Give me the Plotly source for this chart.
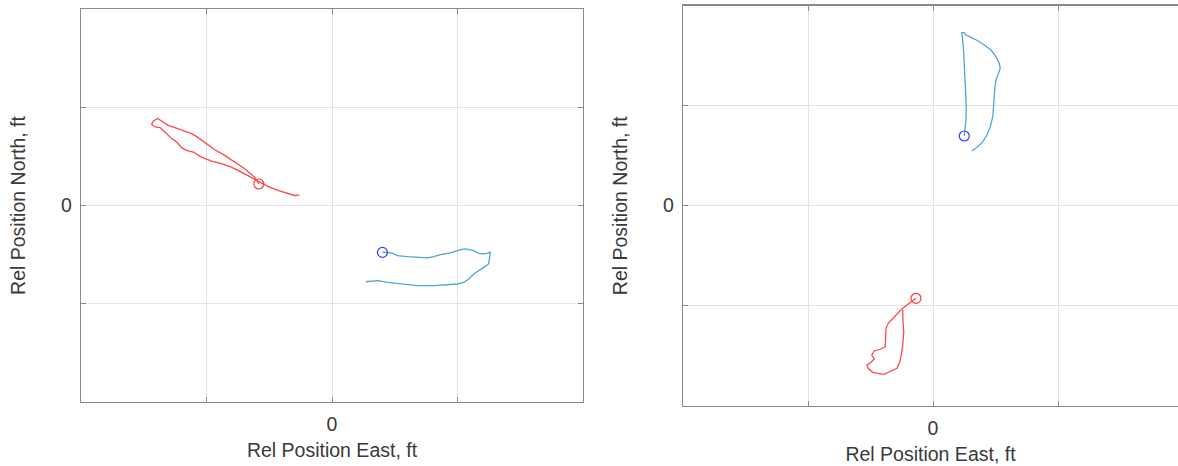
import plotly.graph_objects as go

# ---------------- data (ft) ----------------
# Left panel: red track
left_red_east = [-5.83, -6.17, -6.96, -7.75, -8.55, -9.34, -10.0, -10.66, -11.19, -11.85,
                 -12.52, -13.04, -13.44, -13.89, -14.23, -14.37, -14.10, -13.71, -13.31, -12.78,
                 -12.38, -11.98, -11.59, -11.06, -10.40, -9.60, -8.81, -8.02, -7.22, -6.43,
                 -5.77, -5.10, -4.31, -3.52, -2.99, -2.60]
left_red_north = [2.19, 2.89, 3.74, 4.42, 5.10, 5.68, 6.30, 6.91, 7.32, 7.65,
                  7.93, 8.16, 8.50, 8.85, 8.60, 8.27, 7.99, 7.93, 7.48, 6.81,
                  6.46, 5.89, 5.61, 5.44, 4.93, 4.52, 4.26, 3.91, 3.40, 2.83,
                  2.38, 1.94, 1.53, 1.19, 1.02, 1.09]
left_red_start = (-5.83, 2.19)

# Left panel: blue track
left_blue_east = [4.02, 4.42, 4.82, 5.21, 6.01, 6.80, 7.60, 8.12, 8.65, 9.44,
                  10.24, 10.63, 11.29, 11.69, 12.09, 12.36, 12.62, 12.56, 12.48, 12.09,
                  11.69, 11.29, 10.90, 10.50, 9.98, 9.18, 8.12, 6.80, 5.48, 4.42,
                  3.63, 3.10, 2.70]
left_blue_north = [-4.77, -4.77, -4.87, -5.10, -5.20, -5.28, -5.34, -5.20, -5.00, -4.83,
                   -4.49, -4.42, -4.59, -4.87, -4.93, -4.87, -4.72, -5.28, -5.95, -6.30,
                   -6.63, -6.97, -7.48, -7.83, -7.99, -8.06, -8.16, -8.16, -7.99, -7.83,
                   -7.65, -7.72, -7.76]
left_blue_start = (4.02, -4.77)

# Right panel: blue track
right_blue_east = [2.50, 2.56, 2.64, 2.66, 2.62, 2.56, 2.50, 2.46, 2.40, 2.34,
                   2.30, 2.50, 2.64, 3.04, 3.58, 4.10, 4.64, 5.04, 5.30, 5.38,
                   5.22, 5.04, 4.96, 4.90, 4.86, 4.78, 4.58, 4.32, 3.98, 3.58, 3.10]
right_blue_north = [6.95, 7.55, 8.55, 9.88, 11.22, 12.55, 13.88, 15.22, 16.22, 17.05,
                    17.28, 17.28, 17.05, 16.82, 16.48, 16.05, 15.55, 14.88, 14.22, 13.72,
                    13.05, 12.55, 11.88, 10.88, 9.88, 8.88, 7.88, 7.05, 6.38, 5.88, 5.45]
right_blue_start = (2.50, 6.95)

# Right panel: red track
right_red_east = [-1.36, -1.76, -2.16, -2.50, -2.82, -3.22, -3.58, -3.76, -3.76, -3.82,
                  -4.16, -4.70, -4.90, -4.70, -4.96, -5.28, -5.18, -4.82, -4.42, -3.90,
                  -3.36, -2.88, -2.70, -2.56, -2.42, -2.34, -2.40, -2.42]
right_red_north = [-9.28, -9.62, -10.02, -10.35, -10.78, -11.28, -11.78, -12.28, -13.28, -14.12,
                   -14.35, -14.55, -14.95, -15.35, -15.68, -15.95, -16.28, -16.68, -16.78, -16.88,
                   -16.55, -16.28, -15.78, -15.12, -13.95, -12.62, -11.62, -10.45]
right_red_start = (-1.36, -9.28)

tick_vals = [-10, 0, 10]
tick_text = ["", "0", ""]
x_title = "Rel Position East, ft"
y_title = "Rel Position North, ft"

# ---------------- styles ----------------
RED = "#ff4848"
BLUE_LINE = "#55a2d8"
BLUE_MARK = "#3a3aff"
RED_MARK = "#ff3a3a"
AXCOL = "#8a8a8a"
GRIDCOL = "#e3e3e3"
TXT = "#3a3a3a"
FONT = "Liberation Sans, Arial, sans-serif"
FS = 19.5

W, H = 1178, 466

fig = go.Figure()

def add_track(x, y, color, xa, ya):
    fig.add_trace(go.Scatter(x=x, y=y, mode="lines", line=dict(color=color, width=1.3),
                             xaxis=xa, yaxis=ya, showlegend=False, hoverinfo="skip"))

def add_start(pt, color, xa, ya):
    fig.add_trace(go.Scatter(x=[pt[0]], y=[pt[1]], mode="markers",
                             marker=dict(symbol="circle-open", size=10, color=color,
                                         line=dict(width=1.2, color=color)),
                             xaxis=xa, yaxis=ya, showlegend=False, hoverinfo="skip"))

add_track(left_red_east, left_red_north, RED, "x", "y")
add_track(left_blue_east, left_blue_north, BLUE_LINE, "x", "y")
add_start(left_red_start, RED_MARK, "x", "y")
add_start(left_blue_start, BLUE_MARK, "x", "y")

add_track(right_blue_east, right_blue_north, BLUE_LINE, "x2", "y2")
add_track(right_red_east, right_red_north, RED, "x2", "y2")
add_start(right_blue_start, BLUE_MARK, "x2", "y2")
add_start(right_red_start, RED_MARK, "x2", "y2")

def axis(domain, rng, mirror, title, standoff, lblstand):
    return dict(domain=domain, range=rng, tickvals=tick_vals, ticktext=tick_text,
                ticks="inside", ticklen=5, tickcolor=AXCOL, tickwidth=1,
                showline=True, linecolor=AXCOL, linewidth=1.2, mirror=mirror,
                showgrid=True, gridcolor=GRIDCOL, gridwidth=1, zeroline=False,
                tickfont=dict(family=FONT, size=FS, color=TXT),
                ticklabelstandoff=lblstand,
                title=dict(text=title, font=dict(family=FONT, size=FS, color=TXT),
                           standoff=standoff),
                automargin=False, fixedrange=True)

fig.update_layout(
    width=W, height=H,
    margin=dict(l=0, r=0, t=0, b=0),
    paper_bgcolor="white", plot_bgcolor="white",
    xaxis=axis([81 / W, 583 / W], [-20, 20], "ticks", x_title, 9, 4),
    yaxis=axis([(H - 402) / H, (H - 9) / H], [-20, 20], "ticks", y_title, 30, 4),
    xaxis2=axis([683 / W, 1.0], [-20, 19.6], "ticks", x_title, 9, 4),
    yaxis2=axis([(H - 406) / H, (H - 5.5) / H], [-20.05, 20], False, y_title, 30, 4),
)
fig.layout.xaxis.anchor = "y"
fig.layout.yaxis.anchor = "x"
fig.layout.xaxis2.anchor = "y2"
fig.layout.yaxis2.anchor = "x2"

fig.write_html("out.html",
               config={"displayModeBar": False, "staticPlot": True},
               post_script="document.body.style.margin='0';document.body.style.overflow='hidden';")
